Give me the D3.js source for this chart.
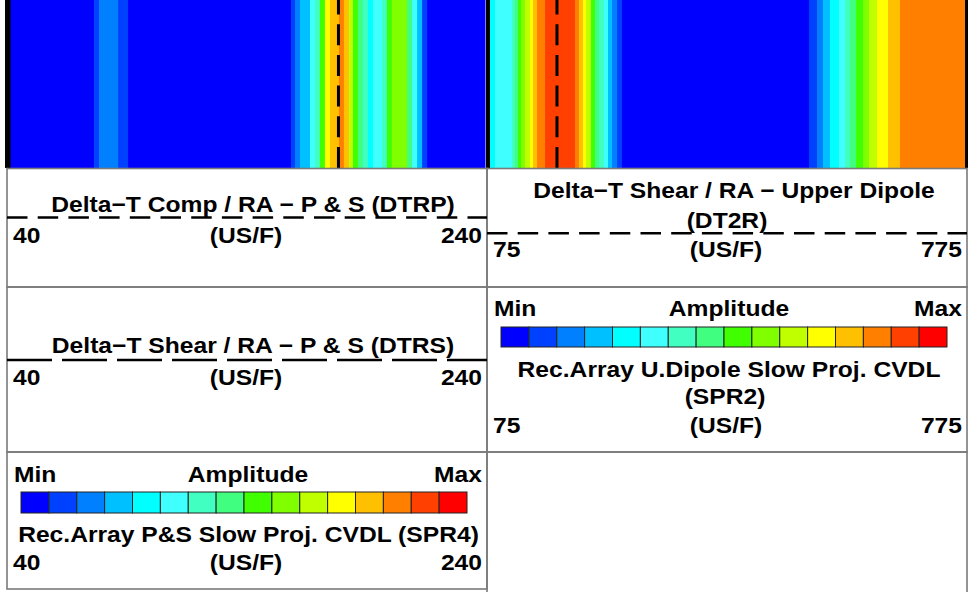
<!DOCTYPE html>
<html>
<head>
<meta charset="utf-8">
<script src="https://cdn.jsdelivr.net/npm/d3@7"></script>
<style>
  html, body { margin: 0; padding: 0; background: #fff; }
  svg { display: block; }
  text { font-family: "Liberation Sans", Arial, Helvetica, sans-serif; font-weight: bold; font-size: 22px; fill: #000; }
</style>
</head>
<body>
<svg id="chart" width="975" height="592"></svg>
<script>
// ---------- DATA ----------
const palette = ["#0000FF","#0040FF","#0080FF","#00C0FF","#00FFFF","#40FFFF","#40FFC0","#40FF80",
                 "#40FF00","#80FF00","#C0FF00","#FFFF00","#FFC000","#FF8000","#FF4000","#FF0000"];

// Left track: Rec.Array P&S Slow Proj. CVDL (SPR4), scale 40..240 US/F
const spr4Domain = [40, 240];
const spr4Edges = [40,75.4,77.5,85.5,89.7,158.3,160,162.1,166.3,168.4,170.5,172.6,174.7,178.5,180.6,
                   182.7,184.4,186.5,188.6,190.7,192.8,196.6,198.7,200.8,207.2,209.3,211.4,213.5,215.6,240];
const spr4Levels = [0,1,2,1,0,1,2,3,5,6,8,11,12,13,12,10,8,7,6,4,5,6,8,9,7,5,3,1,0];

// Right track: Rec.Array U.Dipole Slow Proj. CVDL (SPR2), scale 75..775 US/F
const spr2Domain = [75, 775];
const spr2Edges = [75,82.4,107.4,111.8,116.3,120.7,126.6,133.9,138.4,144.3,156.1,200.3,206.2,212.1,216.5,
                   223.8,229.7,235.6,243.0,248.9,254.8,262.2,269.5,545.1,556.9,565.7,576.1,589.3,598.2,
                   605.5,614.4,624.7,633.5,645.3,661.5,679.2,775];
const spr2Levels = [4,5,6,7,8,9,10,11,12,13,14,13,12,11,10,8,7,6,5,3,2,1,0,1,2,3,4,5,6,7,8,9,10,11,12,13];

// Curves (constant over the visible depth window)
const depthDomain = [0, 1];
const dtrpCurve = [{d: 0, v: 178.3}, {d: 1, v: 178.3}];
const dt2rCurve = [{d: 0, v: 173.7}, {d: 1, v: 173.7}];

// Header text
const dtrpTitle = ["Delta\u2212T Comp / RA \u2212 P & S (DTRP)"];
const dt2rTitle = ["Delta\u2212T Shear / RA \u2212 Upper Dipole", "(DT2R)"];
const dtrsTitle = ["Delta\u2212T Shear / RA \u2212 P & S (DTRS)"];
const spr2Title = ["Rec.Array U.Dipole Slow Proj. CVDL", "(SPR2)"];
const spr4Title = ["Rec.Array P&S Slow Proj. CVDL (SPR4)"];
const unitLabel = "(US/F)";
const ampLabels = ["Min", "Amplitude", "Max"];
const leftTicks = ["40", "240"];
const rightTicks = ["75", "775"];

// ---------- DRAW ----------
const svg = d3.select("#chart");
const SX = 1.12;
const trackTop = 0, trackBottom = 168;

const xL = d3.scaleLinear().domain(spr4Domain).range([10, 485]);
const xR = d3.scaleLinear().domain(spr2Domain).range([490, 965]);
const yD = d3.scaleLinear().domain(depthDomain).range([trackTop, trackBottom]);
const color = d3.scaleOrdinal().domain(d3.range(palette.length)).range(palette);

function bands(x, edges, levels) {
  const data = levels.map((lv, i) => ({x0: edges[i], x1: edges[i + 1], lv}));
  svg.append("g").selectAll("rect").data(data).join("rect")
    .attr("x", d => x(d.x0))
    .attr("width", d => x(d.x1) - x(d.x0) + 0.5)
    .attr("y", trackTop)
    .attr("height", trackBottom - trackTop)
    .attr("fill", d => color(d.lv));
}
bands(xL, spr4Edges, spr4Levels);
bands(xR, spr2Edges, spr2Levels);

function curve(x, pts) {
  svg.append("path")
    .attr("d", d3.line().x(p => x(p.v)).y(p => yD(p.d))(pts))
    .attr("fill", "none").attr("stroke", "#000").attr("stroke-width", 3)
    .attr("stroke-dasharray", "21 9.7").attr("stroke-dashoffset", 6.5);
}
curve(xL, dtrpCurve);
curve(xR, dt2rCurve);

// track frame lines
svg.append("rect").attr("x", 5).attr("y", 0).attr("width", 5.5).attr("height", trackBottom).attr("fill", "#000");
svg.append("rect").attr("x", 486).attr("y", 0).attr("width", 4).attr("height", trackBottom).attr("fill", "#000");
svg.append("rect").attr("x", 965).attr("y", 0).attr("width", 3).attr("height", trackBottom).attr("fill", "#000");

// header cells
const cells = [
  [7, 168.5, 487, 287], [7, 287, 487, 452], [7, 452, 487, 589],
  [487, 168.5, 967, 287], [487, 287, 967, 452], [487, 452, 967, 600]
];
svg.append("g").selectAll("rect").data(cells).join("rect")
  .attr("x", d => d[0]).attr("y", d => d[1])
  .attr("width", d => d[2] - d[0]).attr("height", d => d[3] - d[1])
  .attr("fill", "none").attr("stroke", "#7a7a7a").attr("stroke-width", 1.6);

function label(x, y, t, anchor) {
  svg.append("text")
    .attr("transform", `translate(${x},${y}) scale(${SX},1)`)
    .attr("text-anchor", anchor || "middle")
    .text(t);
}
function hline(x0, x1, y, dash) {
  svg.append("line").attr("x1", x0).attr("x2", x1).attr("y1", y).attr("y2", y)
    .attr("stroke", "#000").attr("stroke-width", 2.4).attr("stroke-dasharray", dash);
}
function scaleLabels(x0, x1, y, ticks) {
  label(x0 + 6, y, ticks[0], "start");
  label((x0 + x1) / 2 - 1, y, unitLabel, "middle");
  label(x1 - 5, y, ticks[1], "end");
}
function colorBar(x0, x1, y0, y1) {
  const bx = d3.scaleBand().domain(d3.range(palette.length)).range([x0, x1]);
  svg.append("g").selectAll("rect").data(d3.range(palette.length)).join("rect")
    .attr("x", i => bx(i)).attr("y", y0)
    .attr("width", bx.bandwidth()).attr("height", y1 - y0)
    .attr("fill", i => color(i)).attr("stroke", "#222").attr("stroke-width", 1);
}

// Row 1 left: DTRP
label(253, 212, dtrpTitle[0]);
hline(7, 487, 217.5, "20.5 10.2");
scaleLabels(7, 487, 243, leftTicks);

// Row 1 right: DT2R
label(734, 198, dt2rTitle[0]);
label(727, 228, dt2rTitle[1]);
hline(487, 967, 233.3, "20.5 10.2");
scaleLabels(487, 967, 257, rightTicks);

// Row 2 left: DTRS
label(253, 353, dtrsTitle[0]);
hline(7, 487, 360, "45 10");
scaleLabels(7, 487, 385, leftTicks);

// Row 2 right: SPR2
label(494, 316, ampLabels[0], "start");
label(729, 316, ampLabels[1]);
label(962, 316, ampLabels[2], "end");
colorBar(501, 947, 327, 347);
label(729, 377, spr2Title[0]);
label(725, 404, spr2Title[1]);
scaleLabels(487, 967, 433, rightTicks);

// Row 3 left: SPR4
label(14, 482, ampLabels[0], "start");
label(248, 482, ampLabels[1]);
label(482, 482, ampLabels[2], "end");
colorBar(21, 467, 492, 513);
label(248.5, 542, spr4Title[0]);
scaleLabels(7, 487, 570, leftTicks);
</script>
</body>
</html>
